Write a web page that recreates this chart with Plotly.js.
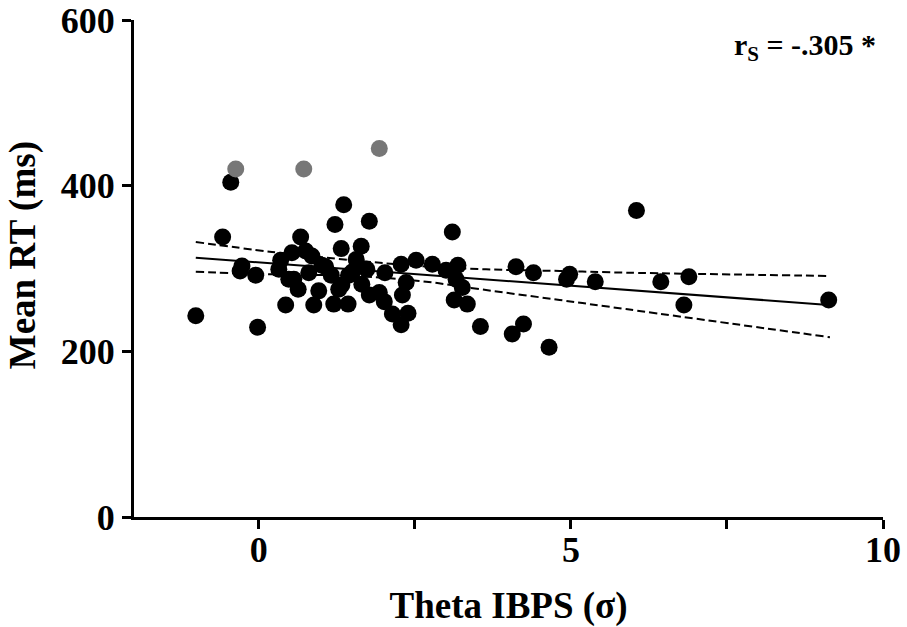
<!DOCTYPE html>
<html>
<head>
<meta charset="utf-8">
<script src="https://cdn.plot.ly/plotly-3.0.1.min.js"></script>
<style>
  html, body { margin: 0; padding: 0; background: #fff; }
  #chart { width: 907px; height: 627px; }
</style>
</head>
<body>
<div id="chart"></div>
<script>
// participants (black dots)
var thetaX = [-1.01, -0.02, -0.58, -0.45, -0.27, -0.30, -0.05, 0.43, 0.35, 0.32,
  0.67, 0.53, 0.75, 0.85, 0.56, 0.63, 0.88, 0.96, 0.80, 1.01,
  1.16, 1.20, 1.43, 1.28, 1.36, 1.22, 1.77, 1.32, 1.64, 1.56,
  1.44, 1.73, 1.65, 1.77, 1.93, 2.02, 2.01, 2.14, 2.28, 2.39,
  2.28, 2.36, 2.30, 2.52, 2.78, 3.10, 3.00, 3.19, 3.16, 3.26,
  3.13, 3.34, 3.55, 4.12, 4.40, 4.98, 4.93, 5.39, 4.24, 4.06,
  4.65, 6.05, 6.44, 6.89, 6.81, 9.13, 0.48, 1.07, 1.33, 1.50];
var meanRT = [243, 229, 338, 404, 303, 297, 292, 256, 310, 299,
  338, 319, 321, 315, 287, 275, 256, 273, 295, 304,
  292, 257, 257, 275, 377, 353, 357, 324, 327, 311,
  292, 299, 281, 268, 271, 295, 260, 245, 232, 246,
  305, 283, 268, 310, 305, 344, 298, 304, 287, 277,
  262, 257, 230, 302, 295, 293, 287, 284, 233, 221,
  205, 370, 284, 290, 256, 262, 287, 302, 280, 296];

// excluded outliers (grey dots)
var outX = [-0.37, 0.72, 1.93];
var outY = [420, 420, 445];

// regression line and 95% band
var fitX = [-1.01, 9.13];
var fitY = [313, 256];
var bandX = [-1.01, 0.21, 1.5, 2.57, 3.64, 4.82, 5.88, 9.15];
var bandUp = [332, 320, 310, 303, 299, 297, 295, 291];
var bandLo = [296, 293, 291, 285, 274, 262, 251, 217];

var fnt = 'Liberation Serif, Times New Roman, serif';

var traces = [
  {x: bandX, y: bandUp, mode: 'lines', line: {color: 'black', width: 2, dash: '8px,4px', shape: 'spline'}, hoverinfo: 'skip'},
  {x: bandX, y: bandLo, mode: 'lines', line: {color: 'black', width: 2, dash: '8px,4px', shape: 'spline'}, hoverinfo: 'skip'},
  {x: fitX, y: fitY, mode: 'lines', line: {color: 'black', width: 2}},
  {x: thetaX, y: meanRT, mode: 'markers', marker: {color: 'black', size: 17}},
  {x: outX, y: outY, mode: 'markers', marker: {color: '#777777', size: 17}}
];

var axisBase = {
  showline: true, linecolor: 'black', linewidth: 3,
  ticks: 'outside', ticklen: 9, tickwidth: 3, tickcolor: 'black',
  showgrid: false, zeroline: false, ticklabeloverflow: 'allow',
  tickfont: {family: fnt, size: 36, color: 'black', weight: 'bold'}
};

var layout = {
  width: 907, height: 627,
  margin: {l: 134, r: 24, t: 20, b: 110},
  paper_bgcolor: 'white', plot_bgcolor: 'white',
  showlegend: false,
  font: {family: fnt, color: 'black'},
  xaxis: Object.assign({}, axisBase, {
    range: [-2, 10], tickvals: [0, 5, 10],
    minor: {dtick: 2.5, tick0: 0, ticks: 'outside', ticklen: 9, tickwidth: 3, tickcolor: 'black', showgrid: false},
    ticklabelstandoff: -10,
    title: {text: 'Theta IBPS (σ)', font: {family: fnt, size: 37, color: 'black', weight: 'bold'}, standoff: 24}
  }),
  yaxis: Object.assign({}, axisBase, {
    range: [0, 600], tickvals: [0, 200, 400, 600]
  }),
  annotations: [{
    xref: 'paper', yref: 'paper', x: 0.993, y: 0.945,
    xanchor: 'right', yanchor: 'middle', showarrow: false,
    text: 'r<sub>S</sub> = -.305 *',
    font: {family: fnt, size: 30, color: 'black', weight: 'bold'}
  }, {
    // y-axis title, placed by hand to sit a little above centre as in the figure
    xref: 'paper', yref: 'paper', x: -0.148, y: 0.527,
    xanchor: 'center', yanchor: 'middle', showarrow: false, textangle: -90,
    text: 'Mean RT (ms)',
    font: {family: fnt, size: 37, color: 'black', weight: 'bold'}
  }]
};

Plotly.newPlot('chart', traces, layout, {displayModeBar: false, staticPlot: true});
</script>
</body>
</html>
